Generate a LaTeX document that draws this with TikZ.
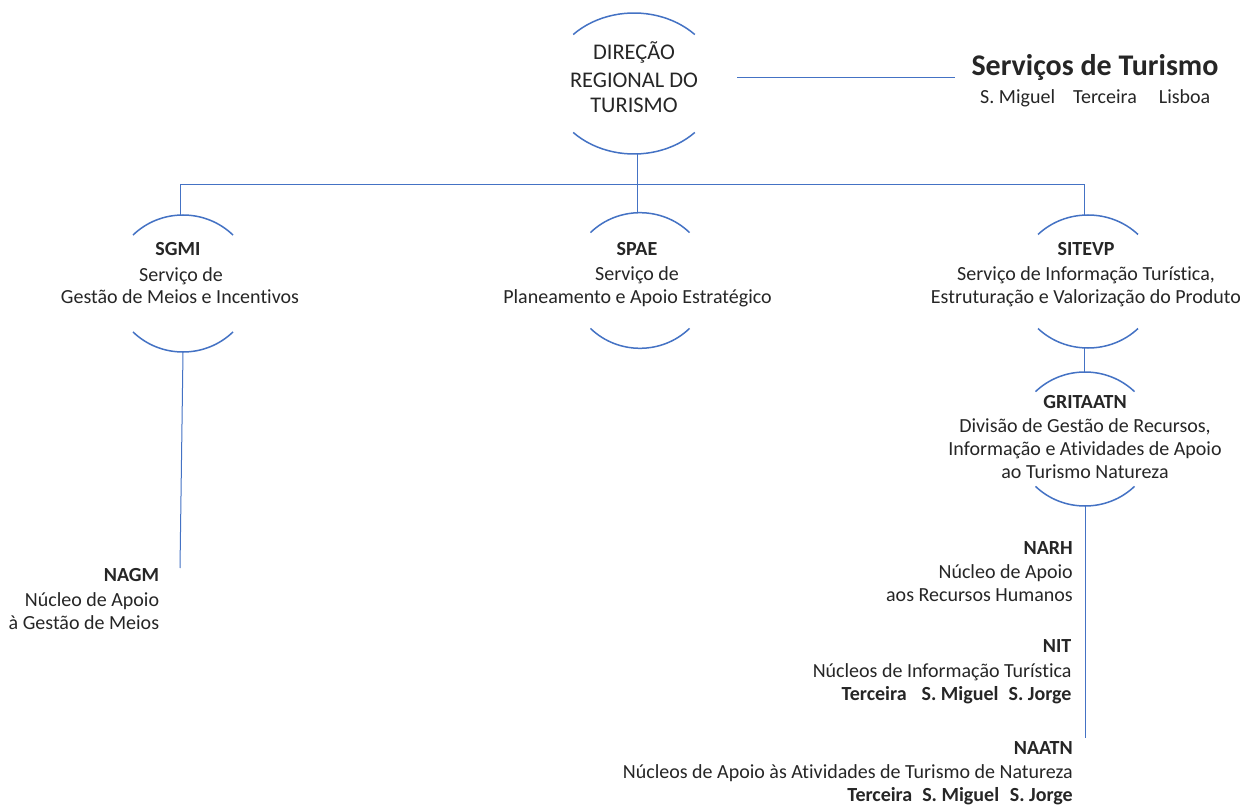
\documentclass[tikz,border=0pt]{standalone}
\usepackage{fontspec}
\setmainfont{Carlito}[RawFeature={-liga,-clig,-dlig,-calt,-hlig}]
\definecolor{ln}{HTML}{4472C4}
\definecolor{tx}{HTML}{262626}
\newcommand\ovalarcs[4]{%
  \draw[arcline] ([shift={(#4:#2pt and #3pt)}]#1) arc[start angle=#4, end angle=180-#4, x radius=#2pt, y radius=#3pt];
  \draw[arcline] ([shift={(-#4:#2pt and #3pt)}]#1) arc[start angle=-#4, end angle=-180+#4, x radius=#2pt, y radius=#3pt];
}
\begin{document}
\begin{tikzpicture}[x=1pt,y=-1pt,
  t/.style={anchor=base, inner sep=0pt, text=tx, font=\fontsize{20}{24}\selectfont},
  tb/.style={t, font=\fontsize{20}{24}\selectfont\bfseries},
  dirt/.style={t, font=\fontsize{22.4}{26}\selectfont},
  titlet/.style={t, font=\fontsize{30}{36}\selectfont\bfseries},
  re/.style={anchor=base east},
  arcline/.style={draw=ln, line width=1.5pt},
  conn/.style={draw=ln, line width=1pt}]
\useasboundingbox (0,0) rectangle (1240,805);
\fill[white] (0,0) rectangle (1240,805);

% arc centres
\coordinate (dirC) at (634,83.5);
\coordinate (sgC) at (183,283.5);
\coordinate (spC) at (640,280.5);
\coordinate (siC) at (1088,281.5);
\coordinate (grC) at (1085,439);
\ovalarcs{dirC}{84.5}{70.5}{44}
\ovalarcs{sgC}{70.7}{68.5}{45}
\ovalarcs{spC}{70}{67.8}{45}
\ovalarcs{siC}{70.7}{66.5}{45}
\ovalarcs{grC}{70}{67}{45}

% connector end points
\coordinate (dirB) at (637,154);
\coordinate (dirR) at (737,78);
\coordinate (stL) at (955,78);
\coordinate (sgT) at (180,215);
\coordinate (sgB) at (183,352);
\coordinate (spT) at (637,212.7);
\coordinate (siT) at (1084,215);
\coordinate (siB) at (1084,348);
\coordinate (grT) at (1084,372);
\coordinate (grB) at (1085,506);
\coordinate (grEnd) at (1085,738);
\coordinate (nagmTop) at (180,568);

% DIRECAO
\node[dirt] (dir1) at (634,60) {DIREÇÃO};
\node[dirt] (dir2) at (634,87.3) {REGIONAL DO};
\node[dirt] (dir3) at (634,113) {TURISMO};

% Servicos de Turismo
\node[titlet] (st1) at (1095,76) {Serviços de Turismo};
\node[t, anchor=base west] (st2) at (980,103.3) {S. Miguel\hspace{18pt}Terceira\hspace{22pt}Lisboa};

% SGMI
\node[tb] (sg1) at (178,255.7) {SGMI};
\node[t] (sg2) at (181,281) {Serviço de};
\node[t] (sg3) at (180,303.3) {Gestão de Meios e Incentivos};

% SPAE
\node[tb] (sp1) at (637,255) {SPAE};
\node[t] (sp2) at (637,280) {Serviço de};
\node[t] (sp3) at (637.5,303.3) {Planeamento e Apoio Estratégico};

% SITEVP
\node[tb] (si1) at (1086,255.5) {SITEVP};
\node[t] (si2) at (1086,280.5) {Serviço de Informação Turística,};
\node[t] (si3) at (1086,303.3) {Estruturação e Valorização do Produto};

% GRITAATN
\node[tb] (gr1) at (1085,408) {GRITAATN};
\node[t] (gr2) at (1085,432) {Divisão de Gestão de Recursos,};
\node[t] (gr3) at (1085,455) {Informação e Atividades de Apoio};
\node[t] (gr4) at (1085,478) {ao Turismo Natureza};

% NARH
\node[tb, re] (na1) at (1073,554) {NARH};
\node[t, re] (na2) at (1073,578.3) {Núcleo de Apoio};
\node[t, re] (na3) at (1073,601.7) {aos Recursos Humanos};

% NIT
\node[tb, re] (ni1) at (1071.5,652.7) {NIT};
\node[t, re] (ni2) at (1071.7,677.3) {Núcleos de Informação Turística};
\node[tb, re] (ni3) at (1071.7,700.7) {Terceira\hspace{15pt}S. Miguel\hspace{10pt}S. Jorge};

% NAATN
\node[tb, re] (nt1) at (1073,754) {NAATN};
\node[t, re] (nt2) at (1073,778.3) {Núcleos de Apoio às Atividades de Turismo de Natureza};
\node[tb, re] (nt3) at (1073,801.7) {Terceira\hspace{10pt}S. Miguel\hspace{10.7pt}S. Jorge};

% NAGM
\node[tb, re] (ng1) at (159.3,581.7) {NAGM};
\node[t, re] (ng2) at (159.3,606.7) {Núcleo de Apoio};
\node[t, re] (ng3) at (159.3,629.3) {à Gestão de Meios};

% connectors
\draw[conn] (dirR) -- (stL);
\draw[conn] (dirB) -- (spT);
\draw[conn] (sgT) -- ++(0,-30) -| (siT);
\draw[conn] (siB) -- (grT);
\draw[conn] (grB) -- (grEnd);
\draw[conn] (sgB) -- (nagmTop);
\end{tikzpicture}
\end{document}
